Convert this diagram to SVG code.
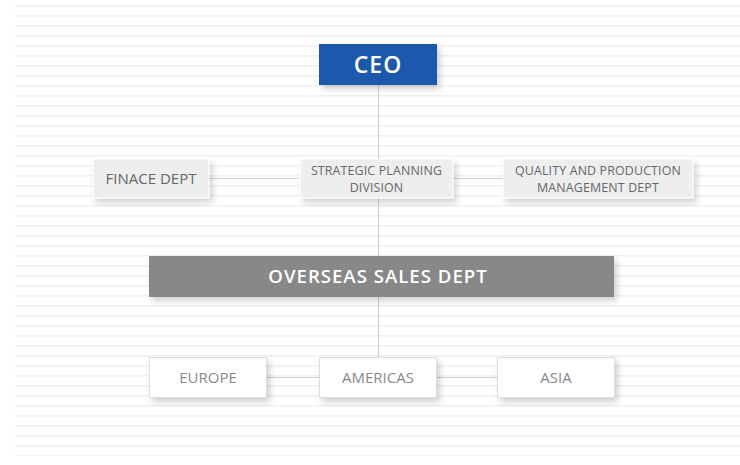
<svg xmlns="http://www.w3.org/2000/svg" width="740" height="465" viewBox="0 0 740 465">
<defs>
<filter id="sh" x="-20%" y="-30%" width="140%" height="170%">
<feDropShadow dx="3" dy="4" stdDeviation="3" flood-color="#000" flood-opacity="0.18"/>
</filter>
<pattern id="bg" x="0" y="5" width="740" height="10" patternUnits="userSpaceOnUse">
<rect x="15" y="0" width="725" height="1.5" fill="#f0f0f0"/>
</pattern>
</defs>
<style>
text{font-family:"Open Sans","Noto Sans","DejaVu Sans",sans-serif;text-anchor:middle}
.gray rect{fill:#eeeeee;stroke:#ffffff;stroke-width:1}
.gray text{fill:#666666;font-size:15px}
.gray text.s{font-size:12.4px;letter-spacing:0.15px}
.white rect{fill:#ffffff;stroke:#dddddd;stroke-width:1}
.white text{fill:#888888;font-size:15px}
.conn line{stroke:#d0d0d0;stroke-width:1}
</style>
<rect width="740" height="465" fill="#ffffff"/>
<rect x="0" y="5" width="740" height="451" fill="url(#bg)"/>
<g id="connectors" class="conn">
<line x1="378.5" y1="85" x2="378.5" y2="357"/>
<line x1="209" y1="178.5" x2="503" y2="178.5"/>
<line x1="266" y1="377.5" x2="497" y2="377.5"/>
</g>
<g id="ceo">
<rect x="319" y="44" width="118" height="41" fill="#1e59ab" filter="url(#sh)"/>
<text x="378" y="73" fill="#ffffff" font-size="23" font-weight="600" letter-spacing="1">CEO</text>
</g>
<g id="finance" class="gray">
<rect x="93" y="159" width="116" height="39" filter="url(#sh)"/>
<text x="151" y="184">FINACE DEPT</text>
</g>
<g id="strategic" class="gray">
<rect x="300" y="159" width="153" height="39" filter="url(#sh)"/>
<text class="s" x="376.5" y="175">STRATEGIC PLANNING</text>
<text class="s" x="376.5" y="192">DIVISION</text>
</g>
<g id="quality" class="gray">
<rect x="503" y="159" width="190" height="39" filter="url(#sh)"/>
<text class="s" x="598" y="175">QUALITY AND PRODUCTION</text>
<text class="s" x="598" y="192">MANAGEMENT DEPT</text>
</g>
<g id="overseas">
<rect x="149" y="256" width="465" height="41" fill="#888888" filter="url(#sh)"/>
<text x="378" y="283" fill="#ffffff" font-size="18.6" font-weight="600" letter-spacing="1">OVERSEAS SALES DEPT</text>
</g>
<g id="europe" class="white">
<rect x="149.5" y="357.5" width="117" height="40" filter="url(#sh)"/>
<text x="208" y="383">EUROPE</text>
</g>
<g id="americas" class="white">
<rect x="319.5" y="357.5" width="117" height="40" filter="url(#sh)"/>
<text x="378" y="383">AMERICAS</text>
</g>
<g id="asia" class="white">
<rect x="497.5" y="357.5" width="117" height="40" filter="url(#sh)"/>
<text x="556" y="383">ASIA</text>
</g>
</svg>
